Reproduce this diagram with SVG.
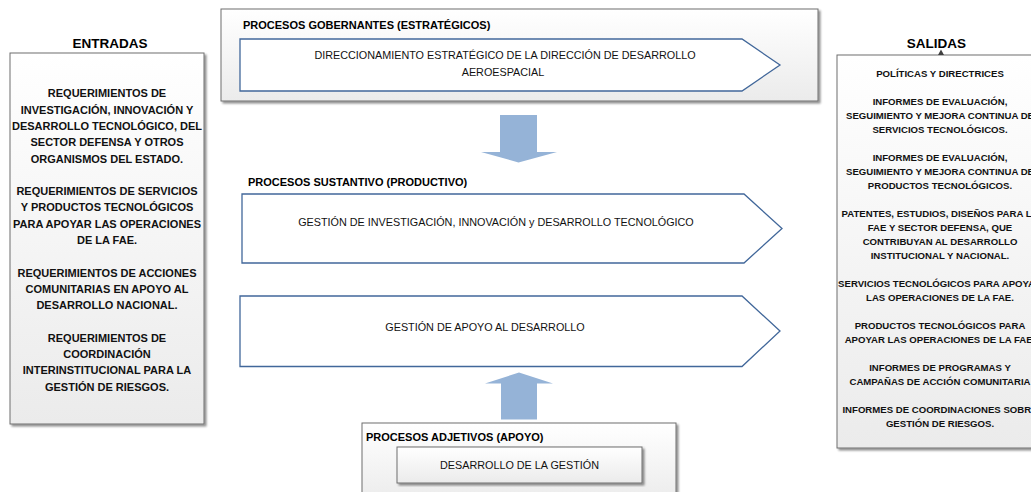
<svg xmlns="http://www.w3.org/2000/svg" width="1031" height="492" viewBox="0 0 1031 492">
  <defs>
    <linearGradient id="panelFill" x1="0" y1="0" x2="0" y2="1">
      <stop offset="0" stop-color="#ffffff"/>
      <stop offset="1" stop-color="#ebebeb"/>
    </linearGradient>
    <filter id="shadow" x="-5%" y="-5%" width="110%" height="115%">
      <feGaussianBlur in="SourceAlpha" stdDeviation="1"/>
      <feOffset dx="1.5" dy="1.5" result="off"/>
      <feComponentTransfer><feFuncA type="linear" slope="0.45"/></feComponentTransfer>
      <feMerge><feMergeNode/><feMergeNode in="SourceGraphic"/></feMerge>
    </filter>
  </defs>
  <style>
    .panel { fill: url(#panelFill); stroke: #6e6e6e; stroke-width: 1; filter: url(#shadow); }
    .chevron { fill: #ffffff; stroke: #41679a; stroke-width: 1.3; }
    .flow { fill: #95b3d7; }
    .title { font-family: "Liberation Sans", Arial, sans-serif; font-weight: bold; font-size: 13.5px; fill: #000; text-anchor: middle; }
    .head { font-family: "Liberation Sans", Arial, sans-serif; font-weight: bold; font-size: 11px; fill: #000; }
    .inTxt { font-family: "Liberation Sans", Arial, sans-serif; font-weight: bold; font-size: 11px; fill: #111; text-anchor: middle; }
    .outTxt { font-family: "Liberation Sans", Arial, sans-serif; font-weight: bold; font-size: 9.6px; fill: #111; text-anchor: middle; }
    .proc { font-family: "Liberation Sans", Arial, sans-serif; font-size: 10.8px; fill: #111; text-anchor: middle; }
  </style>

  <rect width="1031" height="492" fill="#ffffff"/>

  <!-- Inputs column -->
  <g id="entradas">
    <text class="title" x="110" y="48">ENTRADAS</text>
    <rect class="panel" x="10" y="53" width="194" height="371"/>
    <text class="inTxt" x="107" y="97.3">REQUERIMIENTOS DE</text>
    <text class="inTxt" x="107" y="113.6">INVESTIGACIÓN, INNOVACIÓN Y</text>
    <text class="inTxt" x="107" y="129.9">DESARROLLO TECNOLÓGICO, DEL</text>
    <text class="inTxt" x="107" y="146.2">SECTOR DEFENSA Y OTROS</text>
    <text class="inTxt" x="107" y="162.5">ORGANISMOS DEL ESTADO.</text>
    <text class="inTxt" x="107" y="195.1">REQUERIMIENTOS DE SERVICIOS</text>
    <text class="inTxt" x="107" y="211.4">Y PRODUCTOS TECNOLÓGICOS</text>
    <text class="inTxt" x="107" y="227.7">PARA APOYAR LAS OPERACIONES</text>
    <text class="inTxt" x="107" y="244">DE LA FAE.</text>
    <text class="inTxt" x="107" y="276.6">REQUERIMIENTOS DE ACCIONES</text>
    <text class="inTxt" x="107" y="292.9">COMUNITARIAS EN APOYO AL</text>
    <text class="inTxt" x="107" y="309.2">DESARROLLO NACIONAL.</text>
    <text class="inTxt" x="107" y="341.8">REQUERIMIENTOS DE</text>
    <text class="inTxt" x="107" y="358.1">COORDINACIÓN</text>
    <text class="inTxt" x="107" y="374.4">INTERINSTITUCIONAL PARA LA</text>
    <text class="inTxt" x="107" y="390.7">GESTIÓN DE RIESGOS.</text>
  </g>

  <!-- Governing processes -->
  <g id="gobernantes">
    <rect class="panel" x="221" y="9" width="597" height="92"/>
    <text class="head" x="243" y="29">PROCESOS GOBERNANTES (ESTRATÉGICOS)</text>
    <polygon class="chevron" points="240,39 742,39 780,65 742,91 240,91"/>
    <text class="proc" x="505" y="59">DIRECCIONAMIENTO ESTRATÉGICO DE LA DIRECCIÓN DE DESARROLLO</text>
    <text class="proc" x="503" y="76">AEROESPACIAL</text>
  </g>

  <!-- Core processes -->
  <g id="sustantivos">
    <text class="head" x="248" y="186">PROCESOS SUSTANTIVO (PRODUCTIVO)</text>
  </g>
  <g id="investigacion">
    <polygon class="chevron" points="242,194 744,194 782,228.5 744,263 242,263"/>
    <text class="proc" x="496" y="225.5">GESTIÓN DE INVESTIGACIÓN, INNOVACIÓN y DESARROLLO TECNOLÓGICO</text>
  </g>
  <g id="apoyo-desarrollo">
    <polygon class="chevron" points="240,296 742,296 780,331 742,366.5 240,366.5"/>
    <text class="proc" x="485" y="331">GESTIÓN DE APOYO AL DESARROLLO</text>
  </g>

  <!-- Support processes -->
  <g id="adjetivos">
    <rect class="panel" x="362" y="423" width="314" height="80"/>
    <text class="head" x="366" y="441">PROCESOS ADJETIVOS (APOYO)</text>
    <rect class="panel" x="397" y="447" width="245" height="36"/>
    <text class="proc" x="519.5" y="468.7">DESARROLLO DE LA GESTIÓN</text>
  </g>

  <!-- Outputs column -->
  <g id="salidas">
    <text class="title" x="936.5" y="47.5">SALIDAS</text>
    <rect class="panel" x="837" y="55" width="210" height="393"/>
    <text class="outTxt" x="940" y="77.3">POLÍTICAS Y DIRECTRICES</text>
    <text class="outTxt" x="940" y="105.3">INFORMES DE EVALUACIÓN,</text>
    <text class="outTxt" x="940" y="119.3">SEGUIMIENTO Y MEJORA CONTINUA DE</text>
    <text class="outTxt" x="940" y="133.3">SERVICIOS TECNOLÓGICOS.</text>
    <text class="outTxt" x="940" y="161.3">INFORMES DE EVALUACIÓN,</text>
    <text class="outTxt" x="940" y="175.3">SEGUIMIENTO Y MEJORA CONTINUA DE</text>
    <text class="outTxt" x="940" y="189.3">PRODUCTOS TECNOLÓGICOS.</text>
    <text class="outTxt" x="940" y="217.3">PATENTES, ESTUDIOS, DISEÑOS PARA LA</text>
    <text class="outTxt" x="940" y="231.3">FAE Y SECTOR DEFENSA, QUE</text>
    <text class="outTxt" x="940" y="245.3">CONTRIBUYAN AL DESARROLLO</text>
    <text class="outTxt" x="940" y="259.3">INSTITUCIONAL Y NACIONAL.</text>
    <text class="outTxt" x="940" y="287.3">SERVICIOS TECNOLÓGICOS PARA APOYAR</text>
    <text class="outTxt" x="940" y="301.3">LAS OPERACIONES DE LA FAE.</text>
    <text class="outTxt" x="940" y="329.3">PRODUCTOS TECNOLÓGICOS PARA</text>
    <text class="outTxt" x="940" y="343.3">APOYAR LAS OPERACIONES DE LA FAE.</text>
    <text class="outTxt" x="940" y="371.3">INFORMES DE PROGRAMAS Y</text>
    <text class="outTxt" x="940" y="385.3">CAMPAÑAS DE ACCIÓN COMUNITARIA</text>
    <text class="outTxt" x="940" y="413.3">INFORMES DE COORDINACIONES SOBRE</text>
    <text class="outTxt" x="940" y="427.3">GESTIÓN DE RIESGOS.</text>
  </g>

  <!-- Connectors -->
  <g id="connectors">
    <polygon class="flow" points="500,115 537,115 537,152 557,152 518.5,162.5 481,152 500,152"/>
    <polygon class="flow" points="519,372.5 553,383.5 537,383.5 537,419.5 501,419.5 501,383.5 485,383.5"/>
    <polygon fill="#404040" points="941,49.5 944,55 938,55"/>
  </g>
</svg>
